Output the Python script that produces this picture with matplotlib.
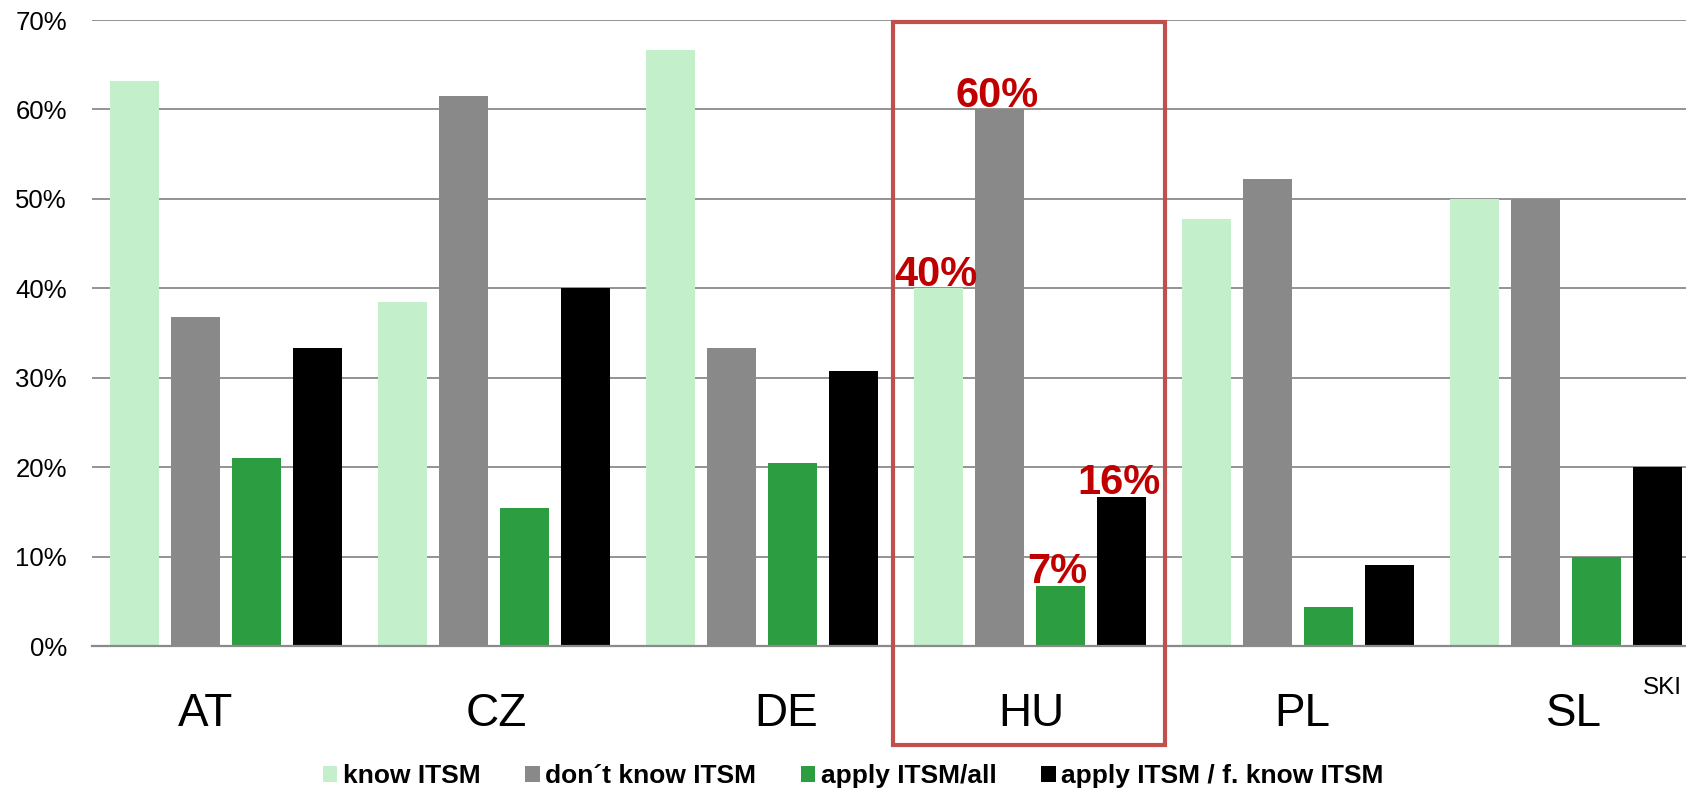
import numpy as np
import matplotlib
matplotlib.use("Agg")
import matplotlib.pyplot as plt
from matplotlib.patches import Patch, Rectangle

# survey shares per country (fraction of respondents)
countries = ["AT", "CZ", "DE", "HU", "PL", "SL"]
know = [0.632, 0.385, 0.667, 0.40, 0.478, 0.50]
dont_know = [0.368, 0.615, 0.333, 0.60, 0.522, 0.50]
apply_all = [0.2105, 0.154, 0.205, 0.067, 0.0435, 0.10]
apply_know = [0.333, 0.40, 0.308, 0.167, 0.091, 0.20]

series_names = ["know ITSM", "don\u00b4t know ITSM", "apply ITSM/all",
                "apply ITSM / f. know ITSM"]
series_colors = ["#C3EFCB", "#898989", "#2C9D40", "#000000"]

# country names are hand-placed text boxes, not exactly centred on the groups
label_shift = [-0.078, 0.007, 0.09, 0.004, 0.015, 0.03]

# highlighted country labels (index, series, text)
hu_labels = [(3, 0, "40%"), (3, 1, "60%"), (3, 2, "7%"), (3, 3, "16%")]

plt.rcParams["font.family"] = ["Liberation Sans", "DejaVu Sans"]

fig = plt.figure(figsize=(16.86, 7.97), dpi=100)
ax = fig.add_axes([92 / 1686, 151 / 797, 1608 / 1686, 626 / 797])

x = np.arange(len(countries))
w = 0.183
offsets = [-0.341, -0.114, 0.114, 0.341]
values = [know, dont_know, apply_all, apply_know]
for vals, off, col in zip(values, offsets, series_colors):
    ax.bar(x + off, vals, w, color=col, zorder=3)

ax.set_xlim(-0.5, 5.5)
ax.set_ylim(0, 0.70)
yt = np.arange(0, 0.71, 0.1)
ax.set_yticks(yt)
ax.set_yticklabels([f"{int(round(v * 100))}%" for v in yt], fontsize=18.5)
ax.set_xticks(x + np.array(label_shift))
ax.set_xticklabels(countries, fontsize=33)
ax.tick_params(axis="y", length=0, pad=18)
ax.tick_params(axis="x", length=0, pad=33)
ax.yaxis.grid(True, color="#8A8A8A", linewidth=1.3, zorder=0)
for s in ("top", "right", "left"):
    ax.spines[s].set_visible(False)
ax.spines["bottom"].set_color("#8A8A8A")
ax.spines["bottom"].set_linewidth(1.6)
ax.spines["bottom"].set_zorder(4)

for i, k, txt in hu_labels:
    ax.annotate(txt, (x[i] + offsets[k], values[k][i]), xytext=(-2, 2),
                textcoords="offset points", ha="center", va="baseline",
                fontsize=30, fontweight="bold", color="#C00000", zorder=5)

# frame around the HU group
fig.add_artist(Rectangle((893 / 1686, 52 / 797), 272 / 1686, 723 / 797,
                         transform=fig.transFigure, fill=False,
                         edgecolor="#C0504D", linewidth=3, zorder=6))

fig.text(1662 / 1686, 1 - 688 / 797, "SKI", fontsize=17.5, ha="center",
         va="center")

handles = [Patch(facecolor=c, edgecolor="none") for c in series_colors]
fig.legend(handles, series_names, loc="center", bbox_to_anchor=(0.506, 0.026),
           ncol=4, frameon=False, handlelength=0.55, handleheight=0.6,
           handletextpad=0.2, columnspacing=1.7,
           prop={"size": 19, "weight": "bold"})

fig.savefig("out.png", dpi=100)
